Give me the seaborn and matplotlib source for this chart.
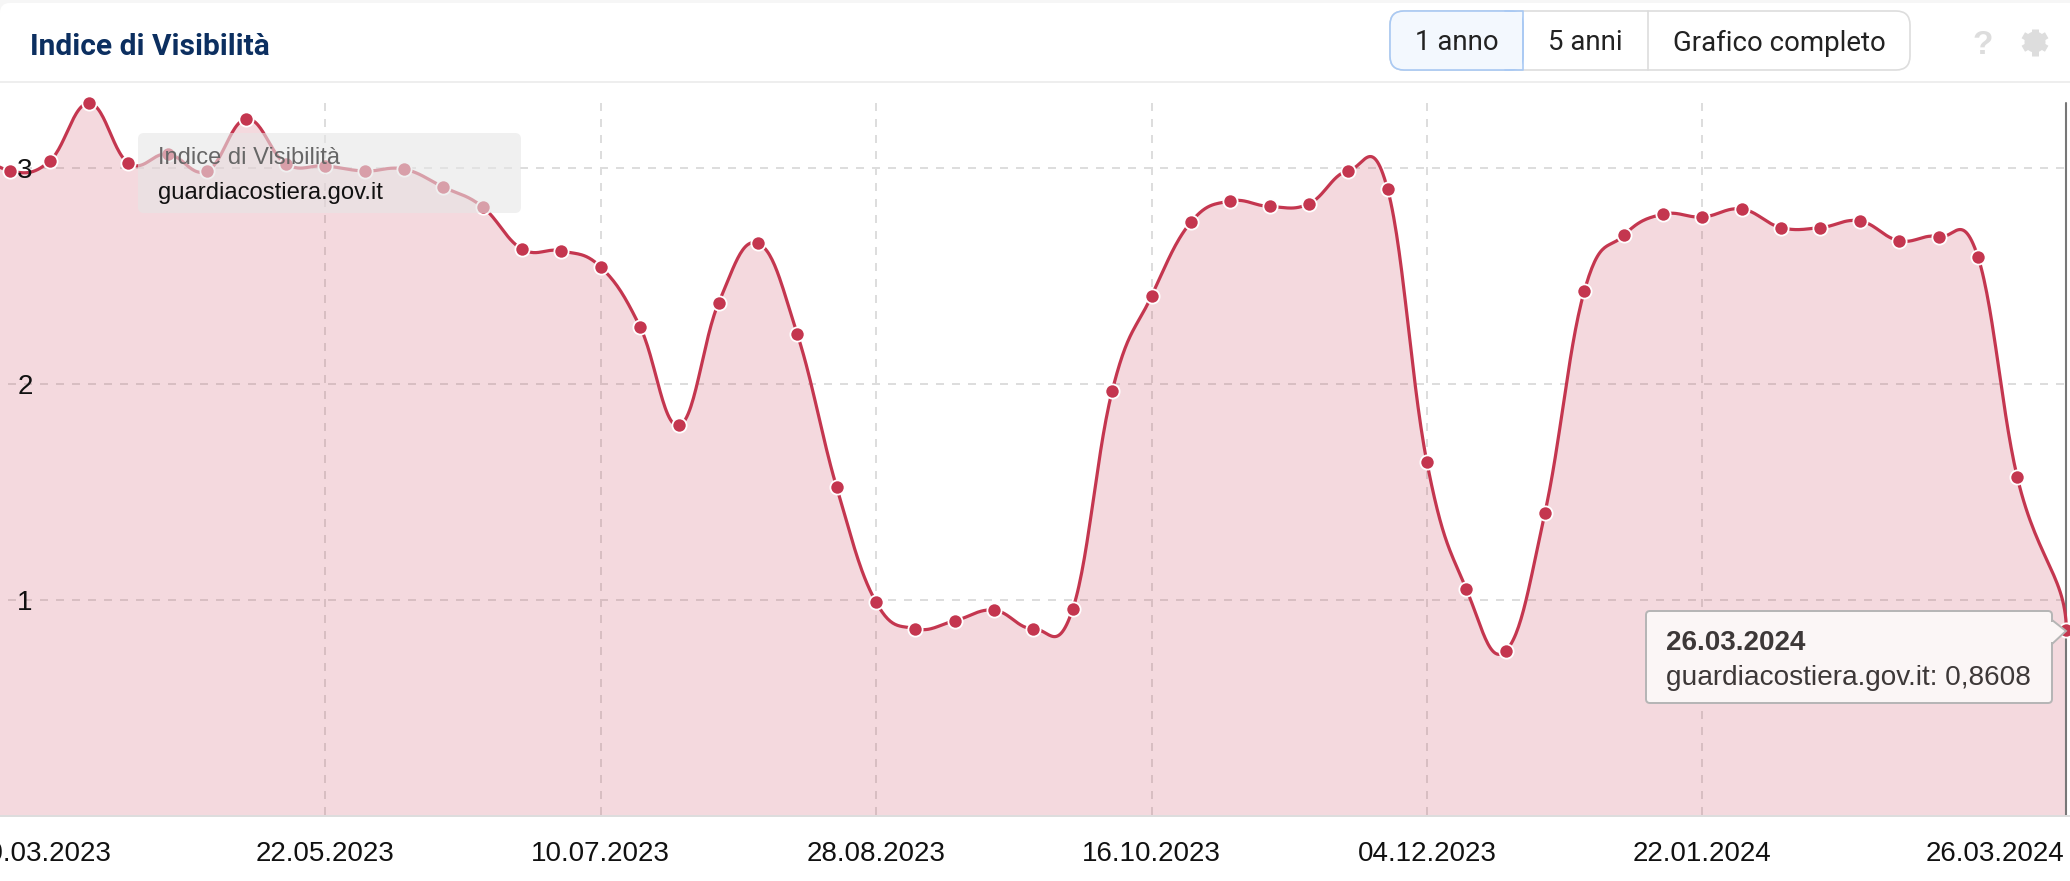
import numpy as np
import pandas as pd
import matplotlib
matplotlib.use("Agg")
import matplotlib.pyplot as plt
import seaborn as sns
from matplotlib.patches import Circle, FancyBboxPatch, Polygon, Rectangle

# data
dates = ["20.03.2023", "22.05.2023", "10.07.2023", "28.08.2023", "16.10.2023",
         "04.12.2023", "22.01.2024", "26.03.2024"]
tick_weeks = [9, 16, 23, 30, 37, 44]
y_ticks = [1, 2, 3]
# the axis is ordinal (one slot per crawl), the last step is a bit longer
weeks = list(range(53)) + [53.25]
values = [3.10, 2.986, 3.032, 3.30, 3.023, 3.065, 2.986, 3.227, 3.02, 3.01,
          2.986, 2.995, 2.912, 2.82, 2.625, 2.616, 2.542, 2.266, 1.808, 2.376,
          2.651, 2.23, 1.521, 0.99, 0.867, 0.904, 0.953, 0.867, 0.959, 1.967,
          2.407, 2.749, 2.847, 2.822, 2.834, 2.987, 2.902, 1.637, 1.051, 0.764,
          1.405, 2.431, 2.688, 2.786, 2.773, 2.81, 2.724, 2.724, 2.755, 2.663,
          2.682, 2.59, 1.57, 0.8608]

RED = "#c4364f"
GRID = "#dddddd"
W, H = 2070, 881
PX_WEEK = 39.35
X0 = -29


def spline(xs, ys, smoothing=1.5, end_handle=(0.02, 0.25)):
    # control points like the Highcharts spline series, without clamping
    # the curve comes into the last point almost vertically, hence end_handle
    xs = np.asarray(xs, dtype=float)
    ys = np.asarray(ys, dtype=float)
    n = len(xs)
    right = [(xs[0], ys[0])]
    left = [(xs[0], ys[0])]
    for i in range(1, n - 1):
        lx = (smoothing * xs[i] + xs[i - 1]) / (smoothing + 1)
        ly = (smoothing * ys[i] + ys[i - 1]) / (smoothing + 1)
        rx = (smoothing * xs[i] + xs[i + 1]) / (smoothing + 1)
        ry = (smoothing * ys[i] + ys[i + 1]) / (smoothing + 1)
        c = (ry - ly) * (rx - xs[i]) / (rx - lx) + ys[i] - ry
        left.append((lx, ly + c))
        right.append((rx, ry + c))
    left.append((xs[-1] - end_handle[0], ys[-1] + end_handle[1]))
    t = np.linspace(0, 1, 30)[:, None]
    out = []
    for i in range(n - 1):
        p0 = np.array([xs[i], ys[i]])
        p1 = np.array(right[i])
        p2 = np.array(left[i + 1])
        p3 = np.array([xs[i + 1], ys[i + 1]])
        out.append((1 - t) ** 3 * p0 + 3 * (1 - t) ** 2 * t * p1 + 3 * (1 - t) * t ** 2 * p2 + t ** 3 * p3)
    out = np.vstack(out)
    return out[:, 0], out[:, 1]


sns.set_theme(style="white")
plt.rcParams["font.family"] = ["Liberation Sans", "DejaVu Sans"]

fig = plt.figure(figsize=(W / 100, H / 100), dpi=100, facecolor="white")
ax = fig.add_axes([0, (H - 816) / H, 1, (816 - 83) / H])
ax.set_xlim((0 - X0) / PX_WEEK, (W - X0) / PX_WEEK)
ax.set_ylim(0, (816 - 83) / 216)

df = pd.DataFrame({"week": weeks, "value": values})
curve_x, curve_y = spline(weeks, values)

# grid first, the area is see-through like in the original
for w in tick_weeks:
    ax.plot([w, w], [3.30, 0], color=GRID, lw=1.44, linestyle=(0, (4, 4)), zorder=0.5)
for v in y_ticks:
    ax.plot([ax.get_xlim()[0], ax.get_xlim()[1]], [v, v], color=GRID, lw=1.44, linestyle=(4, (4, 4)), zorder=0.5)
ax.fill_between(curve_x, 0, curve_y, color=RED, alpha=0.185, lw=0, zorder=1)
ax.plot([weeks[-1], weeks[-1]], [0, 3.30], color="#777777", lw=1.5, zorder=1.6)
sns.lineplot(x=curve_x, y=curve_y, color=RED, linewidth=2.3, estimator=None, sort=False, ax=ax, zorder=3)
sns.scatterplot(data=df, x="week", y="value", color=RED, s=105, edgecolor="white", linewidth=1.3,
                ax=ax, zorder=4, clip_on=False)

ax.set_xlabel("")
ax.set_ylabel("")
ax.set_xticks([])
ax.set_yticks([])
for v in y_ticks:
    ax.text((25 - X0) / PX_WEEK, v, str(v), fontsize=20, color="#111111", ha="center", va="center_baseline", zorder=3.5)
for s in ["top", "left", "right"]:
    ax.spines[s].set_visible(False)
ax.spines["bottom"].set_color("#dddddd")
ax.spines["bottom"].set_linewidth(1.4)

# page chrome, in pixels
ov = fig.add_axes([0, 0, 1, 1], zorder=5)
ov.set_xlim(0, W)
ov.set_ylim(H, 0)
ov.axis("off")

ov.add_patch(Rectangle((0, 0), W, 16, color="#f6f6f6", lw=0))
ov.add_patch(FancyBboxPatch((0, 3), W + 40, 70, boxstyle="round,pad=0,rounding_size=10", fc="white", ec="none"))
ov.plot([0, W], [82, 82], color="#eeeeee", lw=1.4)
ov.text(30, 44, "Indice di Visibilità", family="Roboto", weight="bold", fontsize=21.5,
        color="#0c2f60", va="center_baseline")

# x labels
label_px = [42] + [X0 + PX_WEEK * w for w in tick_weeks] + [1995]
for px, lab in zip(label_px, dates):
    ov.text(px, 851, lab, fontsize=20, color="#111111", ha="center", va="center_baseline")

# range buttons
ov.add_patch(FancyBboxPatch((1390, 11), 520, 59, boxstyle="round,pad=0,rounding_size=14",
                            fc="white", ec="#dddddd", lw=1.2))
ov.add_patch(FancyBboxPatch((1390, 11), 133, 59, boxstyle="round,pad=0,rounding_size=14",
                            fc="#f3f8fe", ec="#a9c9f3", lw=1.2))
ov.add_patch(Rectangle((1505, 11.8), 17.4, 57.4, fc="#f3f8fe", ec="none"))
ov.plot([1505, 1523, 1523, 1505], [11, 11, 70, 70], color="#a9c9f3", lw=1.2)
ov.plot([1647.5, 1647.5], [11, 70], color="#dddddd", lw=1.2)
for px, lab in zip([1456.5, 1585.5, 1779], ["1 anno", "5 anni", "Grafico completo"]):
    ov.text(px, 40, lab, family="Roboto", fontsize=19.9, color="#222222", ha="center", va="center_baseline")

# help and settings icons
ov.text(1983, 42, "?", family="Liberation Sans", weight="bold", fontsize=24, color="#dddddd",
        ha="center", va="center_baseline")
gear_x, gear_y = 2035, 42
for a in np.deg2rad([90, 30, 150]):
    dx, dy = 13.5 * np.cos(a), 13.5 * np.sin(a)
    ov.plot([gear_x - dx, gear_x + dx], [gear_y - dy, gear_y + dy], color="#dddddd", lw=5, solid_capstyle="butt")
ov.add_patch(Circle((gear_x, gear_y), 10.5, fc="#dddddd", ec="none"))
ov.add_patch(Circle((gear_x, gear_y), 4.5, fc="white", ec="none"))

# chart label box
ov.add_patch(FancyBboxPatch((138, 133), 383, 80, boxstyle="round,pad=0,rounding_size=6",
                            fc="#e6e6e6", ec="none", alpha=0.6))
ov.text(158, 156, "Indice di Visibilità", fontsize=17, color="#666666", va="center_baseline")
ov.text(158, 190, "guardiacostiera.gov.it", fontsize=17.2, color="#111111", va="center_baseline")

# tooltip
ov.add_patch(FancyBboxPatch((1646, 611), 406, 92, boxstyle="round,pad=0,rounding_size=4",
                            fc="#fbf6f6", ec="#b5b5b5", lw=1.4))
ov.add_patch(Polygon([(2052, 620), (2066, 631), (2052, 644)], fc="#fbf6f6", ec="#b5b5b5", lw=1.4))
ov.add_patch(Rectangle((2049, 622), 4, 20, fc="#fbf6f6", ec="none"))
ov.text(1666, 640, "26.03.2024", fontsize=20, weight="bold", color="#3d3838", va="center_baseline")
ov.text(1666, 675, "guardiacostiera.gov.it: 0,8608", fontsize=20.15, color="#3d3838", va="center_baseline")

fig.savefig("out.png", dpi=100)
